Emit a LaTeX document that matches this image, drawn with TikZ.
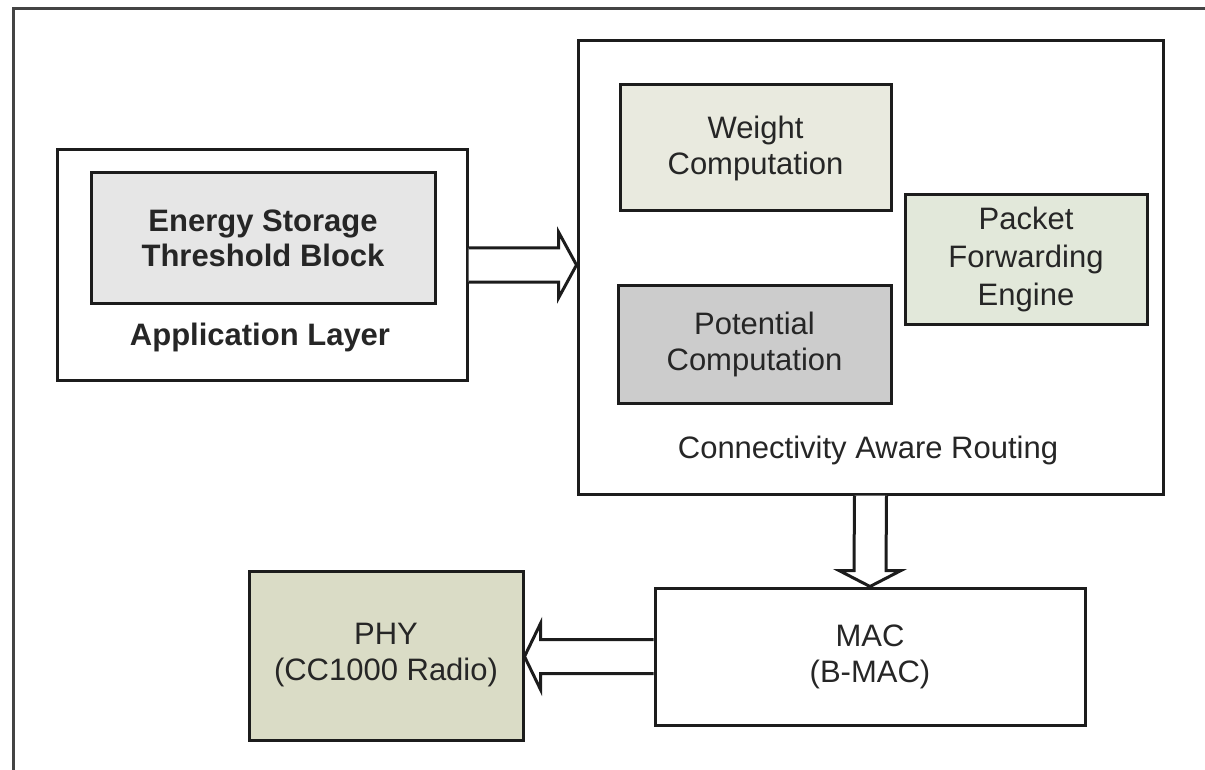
\documentclass[tikz,border=0pt]{standalone}
\usepackage{fontspec}
\setmainfont{Liberation Sans}
\usetikzlibrary{calc}

\definecolor{boxline}{HTML}{1C1C1C}
\definecolor{frameline}{HTML}{444444}
\definecolor{energyfill}{HTML}{E6E6E6}
\definecolor{weightfill}{HTML}{E9EADF}
\definecolor{packetfill}{HTML}{E2E8DA}
\definecolor{potfill}{HTML}{CCCCCC}
\definecolor{phyfill}{HTML}{DADCC6}

\begin{document}
\begin{tikzpicture}[x=1pt,y=-1pt,
  block/.style={draw=boxline, line width=3pt, align=center, text=black!85,
    font=\fontsize{31}{36}\selectfont, inner sep=0pt},
  caption/.style={align=center, text=black!85, font=\fontsize{31}{36}\selectfont},
  blockarrow/.style={draw=boxline, line width=3pt, line join=miter, fill=white}]
\useasboundingbox (0,0) rectangle (1205,770);
\draw[frameline, line width=3pt] (13,770) -- (13,9) -- (1205,9) ; % outer frame

% application layer
\node[block, minimum width=410, minimum height=230] (app) at (262,265) {};
\node[block, fill=energyfill, minimum width=344, minimum height=130,
  font=\fontsize{31}{35}\selectfont\bfseries] (energy) at (263,238) {Energy Storage\\Threshold Block};
\node[caption, font=\fontsize{31}{36}\selectfont\bfseries] (applabel) at (260,337) {Application Layer};

% routing
\node[block, minimum width=585, minimum height=453] (car) at (870.5,267.5) {};
\node[block, fill=weightfill, minimum width=271, minimum height=126] (weight) at (755.5,148) {Weight\\Computation};
\node[block, fill=packetfill, minimum width=242, minimum height=129,
  font=\fontsize{31}{38}\selectfont] (packet) at (1026,259.5) {Packet\\Forwarding\\Engine};
\node[block, fill=potfill, minimum width=273, minimum height=118] (potential) at (754.5,344) {Potential\\Computation};
\node[caption] (carlabel) at (868,450) {Connectivity Aware Routing};

% lower layers
\node[block, minimum width=430, minimum height=137] (mac) at (870,656.5) {MAC\\(B-MAC)};
\node[block, fill=phyfill, minimum width=274, minimum height=169] (phy) at (386,655.5) {PHY\\(CC1000 Radio)};

% block arrows
\coordinate (tipA) at (car.west |- app.east);
\draw[blockarrow] ($(app.east)+(0,-17)$) -- ($(tipA)+(-18,-17)$) -- ($(tipA)+(-18,-33)$) -- (tipA)
  -- ($(tipA)+(-18,33)$) -- ($(tipA)+(-18,17)$) -- ($(app.east)+(0,17)$); % app -> routing
\coordinate (tipB) at (mac.north);
\draw[blockarrow] ($(car.south)+(-16,0)$) -- ($(tipB)+(-16,-16)$) -- ($(tipB)+(-31,-16)$) -- (tipB)
  -- ($(tipB)+(31,-16)$) -- ($(tipB)+(16,-16)$) -- ($(car.south)+(16,0)$); % routing -> mac
\coordinate (tipC) at (phy.east |- mac.west);
\draw[blockarrow] ($(mac.west)+(0,-17)$) -- ($(tipC)+(16,-17)$) -- ($(tipC)+(16,-33)$) -- (tipC)
  -- ($(tipC)+(16,33)$) -- ($(tipC)+(16,17)$) -- ($(mac.west)+(0,17)$); % mac -> phy
\end{tikzpicture}
\end{document}
